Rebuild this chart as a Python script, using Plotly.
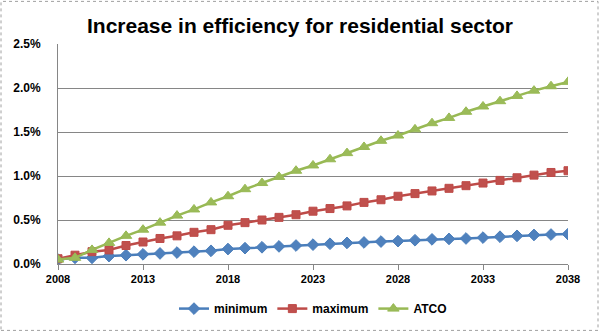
import plotly.graph_objects as go

years = list(range(2008, 2039))
minimum = [0.05, 0.07, 0.07, 0.09, 0.10, 0.11, 0.12, 0.13, 0.14, 0.15,
           0.17, 0.18, 0.19, 0.20, 0.21, 0.22, 0.23, 0.24, 0.245, 0.255,
           0.26, 0.27, 0.28, 0.285, 0.29, 0.30, 0.31, 0.32, 0.33, 0.335, 0.34]
maximum = [0.06, 0.10, 0.14, 0.16, 0.21, 0.25, 0.29, 0.32, 0.36, 0.39,
           0.44, 0.47, 0.50, 0.53, 0.56, 0.60, 0.63, 0.66, 0.70, 0.73,
           0.77, 0.80, 0.83, 0.86, 0.89, 0.92, 0.95, 0.98, 1.01, 1.04, 1.06]
atco = [0.05, 0.07, 0.16, 0.24, 0.32, 0.39, 0.47, 0.55, 0.62, 0.70,
        0.77, 0.85, 0.92, 0.99, 1.06, 1.12, 1.19, 1.26, 1.33, 1.40,
        1.46, 1.53, 1.60, 1.66, 1.73, 1.79, 1.85, 1.91, 1.97, 2.02, 2.07]
x_ticks = [2008, 2013, 2018, 2023, 2028, 2033, 2038]
title = "Increase in efficiency for residential sector"

series = [
    ("minimum", minimum, "#4A7EBB", "#4F81BD", "diamond", 9),
    ("maximum", maximum, "#BE4B48", "#C0504D", "square", 8),
    ("ATCO", atco, "#98B954", "#9BBB59", "triangle-up", 10),
]

fig = go.Figure()
for name, vals, lc, mc, sym, sz in series:
    fig.add_trace(go.Scatter(
        x=years, y=[v / 100 for v in vals], name=name, mode="lines+markers",
        line=dict(color=lc, width=2.5),
        marker=dict(symbol=sym, size=sz, color=mc, line=dict(color=lc, width=1)),
    ))

L, R, T, B = 58, 32, 44, 69
W, H = 600, 335
pw, ph = W - L - R, H - T - B

fig.update_layout(
    width=W, height=H,
    margin=dict(l=L, r=R, t=T, b=B),
    paper_bgcolor="white", plot_bgcolor="white",
    font=dict(family="Liberation Sans", size=11, color="black"),
    title=dict(text="<b>" + title + "</b>", x=0.5, xanchor="center",
               y=1 - 26 / H, yanchor="middle",
               font=dict(family="Liberation Sans", size=21, color="black")),
    xaxis=dict(range=[2008, 2038], tickvals=x_ticks,
               ticktext=["<b>%d</b>" % t for t in x_ticks],
               showgrid=False, zeroline=False,
               showline=True, linecolor="#868686", linewidth=1,
               ticks="outside", ticklen=5, tickcolor="#868686",
               tickfont=dict(size=11)),
    yaxis=dict(range=[0, 0.025], dtick=0.005, tickformat=".1%",
               showgrid=True, gridcolor="#868686", gridwidth=1,
               zeroline=False, showline=True, linecolor="#868686",
               ticks="", tickfont=dict(size=12, family="Liberation Sans"),
               ticklabelstandoff=14),
    legend=dict(orientation="h", x=0.5, xanchor="center",
                y=-(311 - 266) / ph, yanchor="middle",
                font=dict(size=12, weight="bold"), itemwidth=30, tracegroupgap=0),
    showlegend=True,
)
fig.update_yaxes(tickprefix="<b>", ticksuffix="</b>")

fig.add_shape(type="rect", xref="paper", yref="paper",
              x0=-(L - 1) / pw, x1=1 + (R - 2) / pw,
              y0=-(B - 2) / ph, y1=1 + (T - 1) / ph,
              line=dict(color="#A0A0A0", width=1, dash="dot"))

fig.write_html("out.html")
